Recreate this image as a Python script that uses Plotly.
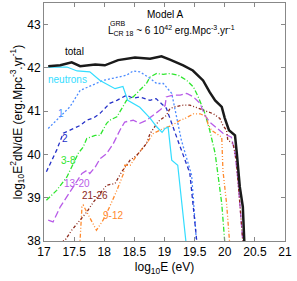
import plotly.graph_objects as go

# ---- data (log10 E [eV], log10 E^2 dN/dE) ----
total_x = [17.07, 17.27, 17.46, 17.60, 17.85, 18.01, 18.23, 18.51, 18.76, 18.95, 19.09, 19.31, 19.47, 19.64, 19.75, 19.84, 19.95, 20.00, 20.07, 20.17, 20.20, 20.25, 20.30, 20.33]
total_y = [42.04, 42.06, 42.13, 42.04, 42.08, 42.06, 42.18, 42.24, 42.21, 42.27, 42.19, 42.06, 41.94, 41.71, 41.44, 41.25, 41.10, 40.84, 40.56, 40.44, 40.03, 39.25, 38.79, 37.80]

neut_x = [17.07, 17.38, 17.55, 17.76, 17.93, 18.18, 18.31, 18.39, 18.59, 18.76, 18.87, 18.96, 19.01, 19.06, 19.12, 19.22, 19.37]
neut_y = [42.02, 42.02, 41.93, 41.91, 41.71, 41.52, 41.57, 41.25, 41.09, 40.84, 40.64, 40.51, 40.60, 40.63, 39.87, 39.75, 37.80]

c1_x = [17.07, 17.27, 17.43, 17.60, 17.87, 17.98, 18.14, 18.37, 18.48, 18.59, 18.76, 18.87, 18.98, 19.12, 19.20, 19.28, 19.45, 19.54]
c1_y = [40.60, 40.87, 41.10, 41.48, 41.64, 41.71, 41.76, 41.83, 41.93, 41.91, 41.76, 41.64, 41.64, 41.41, 40.87, 40.33, 39.52, 37.80]

c2_x = [17.04, 17.21, 17.32, 17.43, 17.51, 17.60, 17.71, 17.82, 17.93, 18.09, 18.21, 18.37, 18.48, 18.59, 18.76, 18.86, 19.03, 19.08, 19.13, 19.22, 19.42, 19.55]
c2_y = [39.60, 40.10, 40.49, 40.56, 40.60, 40.67, 40.79, 40.84, 40.95, 41.18, 41.25, 41.37, 41.30, 41.33, 41.25, 41.29, 41.07, 40.87, 40.64, 40.33, 39.57, 37.80]

c38_x = [17.04, 17.21, 17.38, 17.49, 17.57, 17.65, 17.71, 17.85, 17.93, 18.04, 18.09, 18.21, 18.37, 18.48, 18.59, 18.70, 18.76, 18.87, 18.98, 19.09, 19.23, 19.37, 19.48, 19.56, 19.67, 19.75, 19.84, 19.89, 19.95, 20.01]
c38_y = [38.94, 39.17, 39.48, 39.80, 40.03, 40.17, 40.37, 40.44, 40.44, 40.72, 40.79, 40.87, 41.25, 41.33, 41.48, 41.64, 41.79, 41.87, 41.85, 41.87, 41.83, 41.71, 41.56, 41.33, 40.95, 40.56, 40.03, 39.48, 38.87, 37.80]

c1320_x = [17.07, 17.15, 17.27, 17.38, 17.49, 17.63, 17.71, 17.76, 17.85, 17.93, 18.04, 18.15, 18.26, 18.34, 18.48, 18.59, 18.70, 18.81, 18.92, 19.01, 19.03, 19.14, 19.26, 19.37, 19.48, 19.59, 19.67, 19.75, 19.86, 19.97, 20.11, 20.17, 20.22, 20.28, 20.31]
c1320_y = [38.48, 38.44, 38.79, 39.02, 39.25, 39.56, 39.63, 39.56, 39.71, 39.90, 40.02, 40.25, 40.56, 40.75, 40.79, 40.72, 40.79, 40.90, 41.02, 41.13, 41.33, 41.37, 41.37, 41.41, 41.33, 41.18, 40.90, 40.75, 40.62, 40.49, 40.40, 40.03, 39.40, 38.48, 37.80]

c2126_x = [17.24, 17.35, 17.46, 17.60, 17.71, 17.82, 17.93, 18.04, 18.18, 18.29, 18.43, 18.54, 18.70, 18.76, 18.87, 18.92, 19.03, 19.09, 19.17, 19.31, 19.42, 19.50, 19.59, 19.70, 19.81, 19.92, 19.97, 20.03, 20.05, 20.14, 20.19, 20.25, 20.31]
c2126_y = [37.95, 38.02, 38.25, 38.48, 38.67, 38.90, 39.10, 39.29, 39.33, 39.60, 39.87, 39.98, 40.25, 40.48, 40.71, 40.79, 40.90, 41.06, 41.10, 41.14, 41.14, 41.10, 41.05, 41.00, 40.94, 40.83, 40.67, 40.56, 40.33, 40.25, 39.87, 38.87, 37.80]

c912_x = [17.59, 17.63, 17.65, 17.79, 17.87, 17.98, 18.09, 18.21, 18.32, 18.34, 18.43, 18.54, 18.65, 18.70, 18.81, 18.98, 19.12, 19.26, 19.34, 19.48, 19.59, 19.70, 19.72, 19.78, 19.95, 19.97, 20.03, 20.09]
c912_y = [37.80, 38.79, 38.83, 38.48, 38.25, 38.48, 38.79, 39.17, 39.56, 39.75, 39.75, 39.98, 40.17, 40.25, 40.48, 40.60, 40.67, 40.79, 40.83, 40.94, 40.94, 40.87, 40.71, 40.56, 40.40, 39.63, 38.87, 37.80]

series_names = ["total", "neutrons", "1", "2", "3-8", "13-20", "21-26", "9-12"]
label_x = [17.50, 17.39, 17.29, 17.35, 17.40, 17.54, 17.85, 18.15]
label_y = [42.39, 41.74, 40.94, 40.37, 39.87, 39.33, 39.06, 38.60]

x_ticks = [17, 17.5, 18, 18.5, 19, 19.5, 20, 20.5, 21]
y_ticks = [38, 39, 40, 41, 42, 43]

# ---- styles ----
colors = ["#1a1a1a", "#33ddff", "#4d8cff", "#2430c8", "#2ee62e", "#b85ce8", "#8c2a1c", "#ff8a2e"]
dashes = ["solid", "solid", "2px,2px", "4px,3px", "5px,2px,1px,2px", "7px,3px",
          "3px,2px,1px,2px,1px,2px", "4px,2px,1px,2px,1px,2px"]
widths = [2.5, 1.2, 1.3, 1.3, 1.3, 1.3, 1.3, 1.3]

xs = [total_x, neut_x, c1_x, c2_x, c38_x, c1320_x, c2126_x, c912_x]
ys = [total_y, neut_y, c1_y, c2_y, c38_y, c1320_y, c2126_y, c912_y]

fig = go.Figure()
order = [2, 3, 4, 5, 7, 6, 1, 0]
for i in order:
    fig.add_trace(go.Scatter(x=xs[i], y=ys[i], mode="lines", name=series_names[i],
                             line=dict(color=colors[i], dash=dashes[i], width=widths[i]),
                             showlegend=False, hoverinfo="skip"))

FONT = "Liberation Sans, Arial, Helvetica, sans-serif"
for i, name in enumerate(series_names):
    fig.add_annotation(x=label_x[i], y=label_y[i], text=name, showarrow=False,
                       font=dict(family=FONT, size=10, color="#000000" if i == 0 else colors[i]),
                       xanchor="center", yanchor="middle")

fig.add_annotation(x=0.5, y=0.95, xref="paper", yref="paper", text="Model A", showarrow=False,
                   font=dict(family=FONT, size=10, color="#000"), xanchor="center", yanchor="middle")
fig.add_annotation(x=0.53, y=0.885, xref="paper", yref="paper",
                   text="L<sub>CR 18</sub> ~ 6 10<sup>42</sup> erg.Mpc<sup>-3</sup>.yr<sup>-1</sup>",
                   showarrow=False, font=dict(family=FONT, size=10, color="#000"),
                   xanchor="center", yanchor="middle")
fig.add_annotation(x=0.305, y=0.915, xref="paper", yref="paper", text="GRB", showarrow=False,
                   font=dict(family=FONT, size=7, color="#000"), xanchor="center", yanchor="middle")

axis_common = dict(showgrid=False, zeroline=False, showline=True, linecolor="#888888", linewidth=1,
                   mirror="ticks", ticks="inside", ticklen=4, tickcolor="#888888", automargin=False,
                   tickfont=dict(family=FONT, size=12, color="#000"))
fig.update_xaxes(range=[17, 21], tickvals=x_ticks, ticktext=[f"{v:g}" for v in x_ticks],
                 title=dict(text="log<sub>10</sub>E (eV)", font=dict(family=FONT, size=12, color="#000"), standoff=4),
                 **axis_common)
fig.update_yaxes(range=[38, 43.5], tickvals=y_ticks, ticktext=[str(v) for v in y_ticks],
                 title=dict(text="log<sub>10</sub>E<sup>2</sup>dN/dE (erg.Mpc<sup>-3</sup>.yr<sup>-1</sup>)",
                            font=dict(family=FONT, size=12, color="#000"), standoff=2),
                 **axis_common)
fig.update_layout(width=297, height=281, margin=dict(l=44, r=12, t=3, b=40),
                  plot_bgcolor="white", paper_bgcolor="white")
fig.write_html("out.html", config={"displayModeBar": False},
               post_script="document.body.style.margin='0px';document.body.style.overflow='hidden';")
